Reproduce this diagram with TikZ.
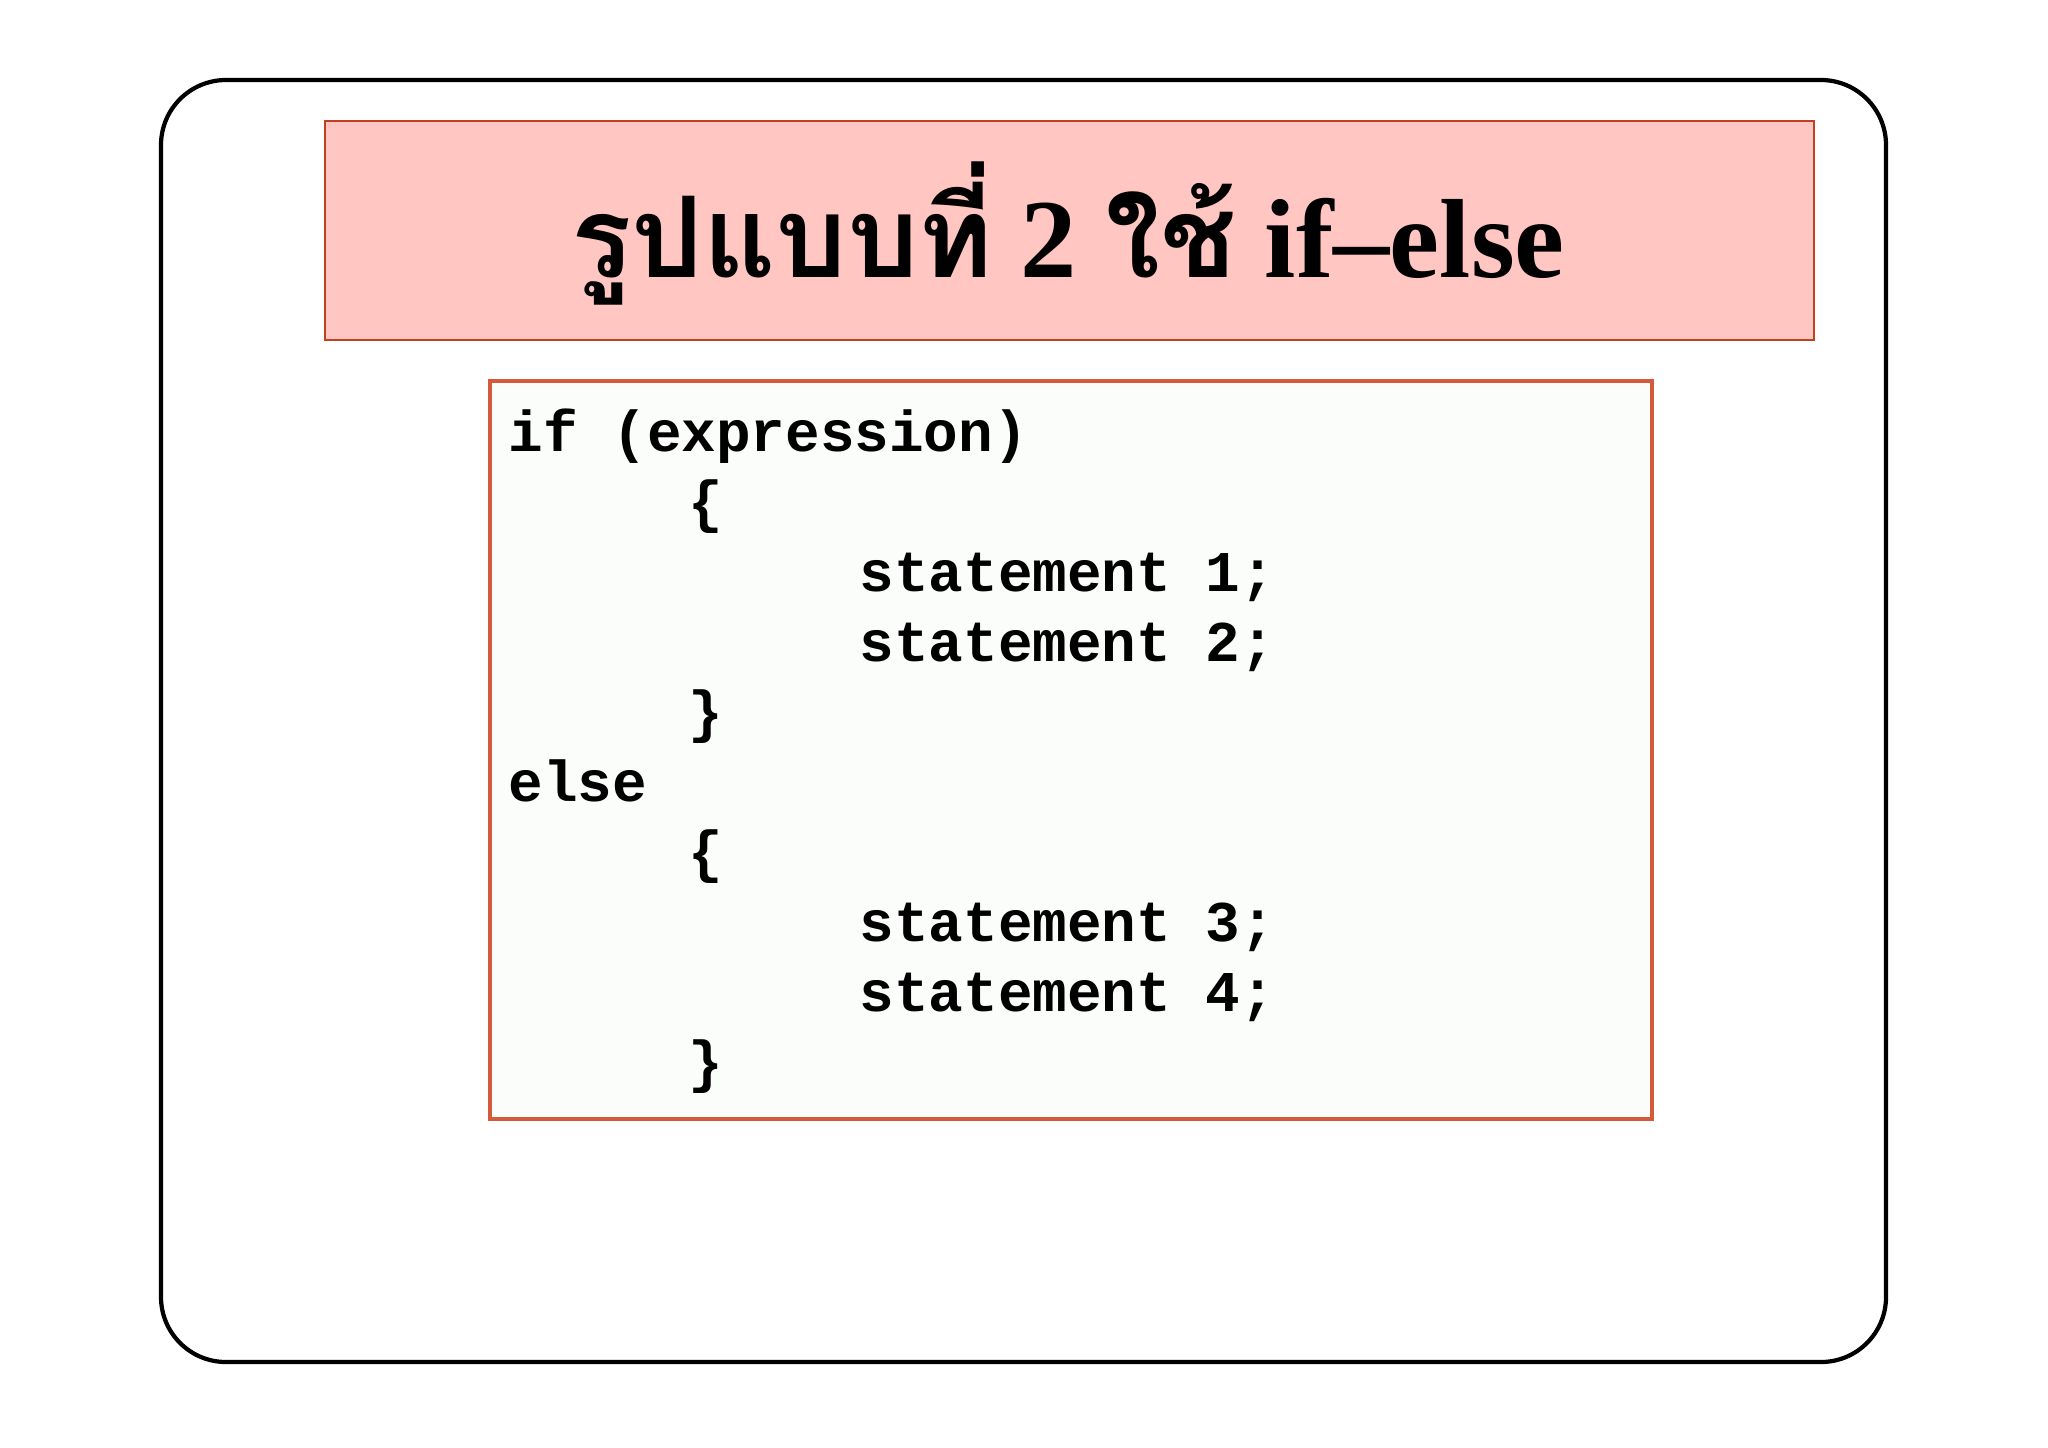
\documentclass[tikz,border=0pt]{standalone}
\usepackage{fontspec}
\setmainfont{Liberation Serif}
\newfontfamily\thaifont[Script=Thai]{Loma}
\newfontfamily\codefont{Liberation Mono}
\definecolor{titlefill}{HTML}{FFC6C2}
\definecolor{titleline}{HTML}{C0401F}
\definecolor{codeline}{HTML}{D55A3A}
\definecolor{codefill}{HTML}{FBFDFB}
\begin{document}
\begin{tikzpicture}[x=0.01cm,y=-0.01cm,
  code/.style={anchor=base west,inner sep=0pt,font=\codefont\bfseries\fontsize{16.4}{19}\selectfont}]
\useasboundingbox (0,0) rectangle (2048,1447);
\draw[line width=1.2pt,rounded corners=0.65cm] (161,80) rectangle (1886,1362);
\draw[titleline,fill=titlefill,line width=0.8pt] (325,121) rectangle (1814,340);
\node[anchor=base,inner sep=0pt] (title) at (1068,277)
  {\fontsize{32}{38}\selectfont\bfseries{\thaifont รูปแบบที่} 2 {\thaifont ใช้} if–else};
\draw[codeline,fill=codefill,line width=0.9pt] (490,381) rectangle (1652,1119);
\node[code] (l1) at (508,451) {if (expression)};
\node[code] (l2) at (688,521) {\{};
\node[code] (l3) at (859,591) {statement 1;};
\node[code] (l4) at (859,661) {statement 2;};
\node[code] (l5) at (688,731) {\}};
\node[code] (l6) at (508,801) {else};
\node[code] (l7) at (688,871) {\{};
\node[code] (l8) at (859,941) {statement 3;};
\node[code] (l9) at (859,1011) {statement 4;};
\node[code] (l10) at (688,1081) {\}};
\end{tikzpicture}
\end{document}
